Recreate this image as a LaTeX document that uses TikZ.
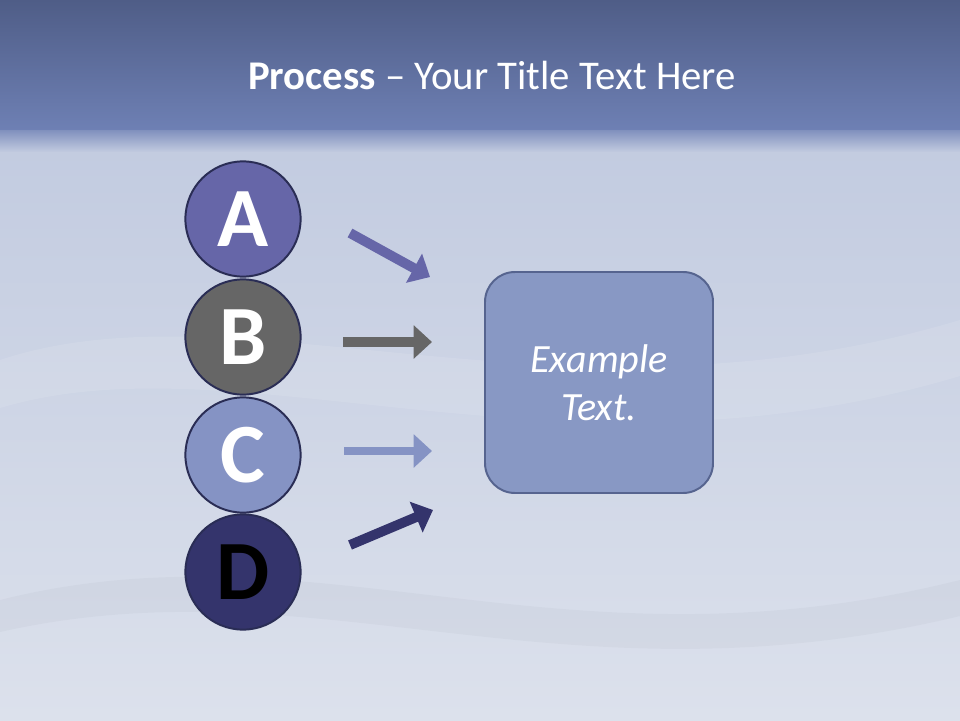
\documentclass[tikz,border=0pt]{standalone}
\usepackage{fontspec}
\setmainfont{Carlito}
\usetikzlibrary{arrows.meta}

\definecolor{bandtop}{HTML}{4F5D87}
\definecolor{bandbot}{HTML}{6E80B4}
\definecolor{clothtop}{HTML}{C2CBE0}
\definecolor{clothbot}{HTML}{DCE1EC}
\definecolor{ringline}{HTML}{2A2D55}
\definecolor{fillA}{HTML}{6666A8}
\definecolor{fillB}{HTML}{666666}
\definecolor{fillC}{HTML}{8593C4}
\definecolor{fillD}{HTML}{34346C}
\definecolor{boxfill}{HTML}{8898C4}
\definecolor{boxline}{HTML}{56648F}

\tikzset{
    letter/.style={circle, draw=ringline, line width=1.4pt, inner sep=0pt, minimum size=2.88cm,
        text=white, font=\fontsize{60}{60}\selectfont\bfseries},
    pointer/.style={line width=7pt, -{Triangle[length=13pt, width=23pt]}},
}

\begin{document}
\begin{tikzpicture}
        % background: title band and cloth
        \shade[top color=clothtop, bottom color=clothbot] (0, 0) rectangle (24, 14.6);
        \shade[top color=bandbot, bottom color=clothtop] (0, 14.2) rectangle (24, 14.9);
        \shade[top color=bandtop, bottom color=bandbot] (0, 14.75) rectangle (24, 18);
        \fill[white, opacity=0.10] (0, 9) .. controls (6, 11) and (14, 7) .. (24, 10) -- (24, 8.6) .. controls (14, 5.6) and (6, 9.6) .. (0, 7.8) -- cycle;
        \fill[black!40!clothtop, opacity=0.06] (0, 3) .. controls (8, 5) and (14, 1) .. (24, 3.5) -- (24, 2.6) .. controls (14, 0.2) and (8, 4) .. (0, 2.2) -- cycle;
        \useasboundingbox (0, 0) rectangle (24, 18);

        \node[text=white, font=\fontsize{29}{34}\selectfont] (title) at (12.3, 16.125) {\textbf{Process} -- Your Title Text Here};

        \node[letter, fill=fillA] (a) at (6.075, 12.525) {A};
        \node[letter, fill=fillB] (b) at (6.075, 9.575) {B};
        \node[letter, fill=fillC] (c) at (6.075, 6.625) {C};
        \node[letter, fill=fillD, text=black] (d) at (6.075, 3.7) {D};

        \node[rectangle, rounded corners=0.75cm, draw=boxline, line width=1.4pt, fill=boxfill,
            minimum width=5.7cm, minimum height=5.525cm, text=white, align=center,
            font=\fontsize{28.5}{34}\selectfont\itshape] (box) at (14.975, 8.4375) {Example\\Text.};

        \coordinate (a0) at (8.75, 12.175);
        \coordinate (a1) at (10.75, 11.075);
        \coordinate (b0) at (8.575, 9.45);
        \coordinate (b1) at (10.8, 9.45);
        \coordinate (c0) at (8.6, 6.725);
        \coordinate (c1) at (10.8, 6.725);
        \coordinate (d0) at (8.75, 4.375);
        \coordinate (d1) at (10.825, 5.25);

        \draw[pointer, fillA] (a0) -- (a1);
        \draw[pointer, fillB] (b0) -- (b1);
        \draw[pointer, fillC, line width=5pt] (c0) -- (c1);
        \draw[pointer, fillD] (d0) -- (d1);
    \end{tikzpicture}
\end{document}
